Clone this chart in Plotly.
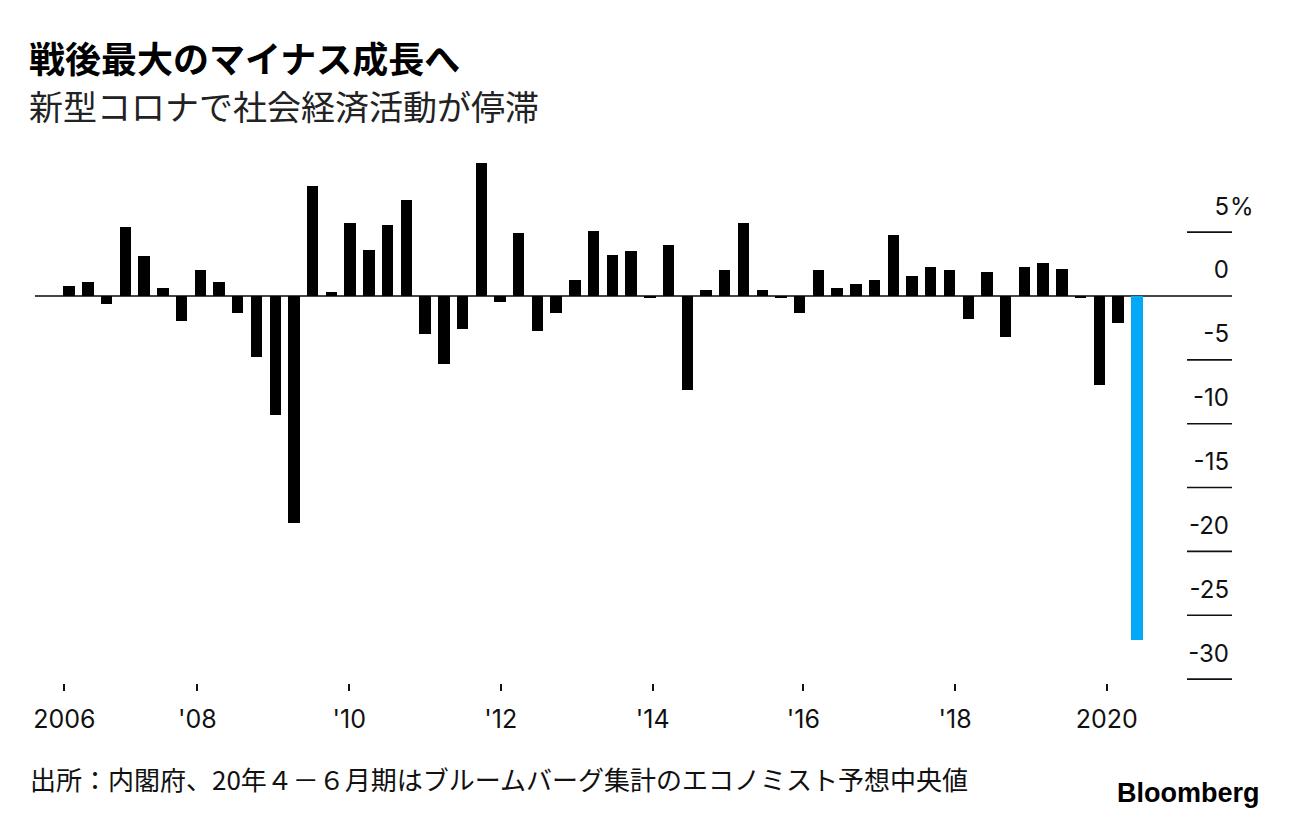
import plotly.graph_objects as go

# ---- data ----
quarters = [f"{y}Q{q}" for y in range(2006, 2021) for q in range(1, 5)][:58]
growth = [
    0.8, 1.1, -0.6, 5.4,        # 2006
    3.1, 0.65, -1.95, 2.05,     # 2007
    1.1, -1.35, -4.75, -9.3,    # 2008
    -17.8, 8.6, 0.35, 5.7,      # 2009
    3.6, 5.55, 7.55, -3.0,      # 2010
    -5.35, -2.6, 10.45, -0.45,  # 2011
    4.95, -2.75, -1.35, 1.25,   # 2012
    5.1, 3.25, 3.55, -0.15,     # 2013
    4.0, -7.35, 0.5, 2.05,      # 2014
    5.7, 0.5, -0.15, -1.35,     # 2015
    2.05, 0.65, 0.95, 1.25,     # 2016
    4.8, 1.55, 2.3, 2.0,        # 2017
    -1.8, 1.85, -3.2, 2.3,      # 2018
    2.6, 2.15, -0.15, -7.0,     # 2019
    -2.1, -26.9,                # 2020 (Q2 = forecast)
]
forecast_flags = [False] * 57 + [True]

x_tick_labels = ["2006", "'08", "'10", "'12", "'14", "'16", "'18", "2020"]
x_tick_pos = [-0.26, 6.84, 14.95, 23.04, 31.15, 39.2, 47.3, 55.4]
y_tick_vals = [5, 0, -5, -10, -15, -20, -25, -30]
y_tick_text = ["5", "0", "-5", "-10", "-15", "-20", "-25", "-30"]

title = "戦後最大のマイナス成長へ"
subtitle = "新型コロナで社会経済活動が停滞"
source = "出所：内閣府、20年４－６月期はブルームバーグ集計のエコノミスト予想中央値"

# ---- layout geometry (pixels) ----
W, H = 1289, 818
L, R = 35, 1232
T, B = 150, 683
PW, PH = R - L, B - T
qpx = 18.73
x0 = -(69.2 - L) / qpx
x1 = x0 + PW / qpx
zero_px = 296
ppu = 12.77
y_top = (zero_px - T) / ppu
y_bot = -(B - zero_px) / ppu

def px_x(p):
    return (p - L) / PW

def px_y(p):
    return (B - p) / PH

BLACK = "#000000"
BLUE = "#03A9F4"
colors = [BLUE if f else BLACK for f in forecast_flags]
xs = list(range(len(quarters)))

fig = go.Figure()
fig.add_trace(go.Bar(
    x=xs, y=growth, width=0.61,
    marker=dict(color=colors, line=dict(width=0)),
    customdata=quarters,
    hovertemplate="%{customdata}: %{y}%<extra></extra>",
))

LATIN = "Inter, Liberation Sans, Arial, sans-serif"
CJK = "Noto Sans CJK JP, sans-serif"

fig.update_layout(
    width=W, height=H,
    margin=dict(l=L, r=W - R, t=T, b=H - B, pad=0),
    paper_bgcolor="white", plot_bgcolor="white",
    showlegend=False,
    bargap=0,
    xaxis=dict(
        range=[x0, x1], showgrid=False, zeroline=False, showline=False,
        tickmode="array", tickvals=x_tick_pos, ticktext=x_tick_labels,
        ticks="outside", ticklen=7, tickwidth=1.5, tickcolor="#111",
        tickfont=dict(family=LATIN, size=25, color="#111"),
        ticklabelstandoff=7,
        fixedrange=True,
    ),
    yaxis=dict(
        range=[y_bot, y_top], side="right", showgrid=False,
        zeroline=True, zerolinecolor="#444", zerolinewidth=1.5,
        showline=False, ticks="",
        tickmode="array", tickvals=y_tick_vals, ticktext=y_tick_text,
        ticklabelposition="inside",
        ticklabelshift=-26,
        tickfont=dict(family=LATIN, size=24, color="#111"),
        fixedrange=True,
    ),
)

# short right-side grid lines
for v in y_tick_vals:
    if v == 0:
        continue
    fig.add_shape(type="line", xref="paper", yref="y",
                  x0=px_x(1187), x1=1, y0=v, y1=v,
                  line=dict(color="#111", width=1.6))

# percent sign next to the top label
fig.add_annotation(text="%", xref="paper", yref="y", x=1, y=y_tick_vals[0],
                   xanchor="left", yanchor="middle", yshift=26, xshift=-4,
                   showarrow=False, font=dict(family=LATIN, size=24, color="#111"))

fig.add_annotation(text=f"<b>{title}</b>", xref="paper", yref="paper",
                   x=px_x(27), y=px_y(57), xanchor="left", yanchor="middle",
                   showarrow=False, font=dict(family=CJK, size=36, color="#000"))
fig.add_annotation(text=subtitle, xref="paper", yref="paper",
                   x=px_x(27), y=px_y(105), xanchor="left", yanchor="middle",
                   showarrow=False, font=dict(family=CJK, size=34, color="#222"))
fig.add_annotation(text=source, xref="paper", yref="paper",
                   x=px_x(28), y=px_y(778), xanchor="left", yanchor="middle",
                   showarrow=False, font=dict(family=CJK, size=26, color="#111"))
fig.add_annotation(text="<b>Bloomberg</b>", xref="paper", yref="paper",
                   x=px_x(1262), y=px_y(793), xanchor="right", yanchor="middle",
                   showarrow=False, font=dict(family="Liberation Sans, Arial", size=27, color="#000"))

fig.write_html("out.html", config={"displayModeBar": False},
               post_script="document.body.style.margin='0';")
